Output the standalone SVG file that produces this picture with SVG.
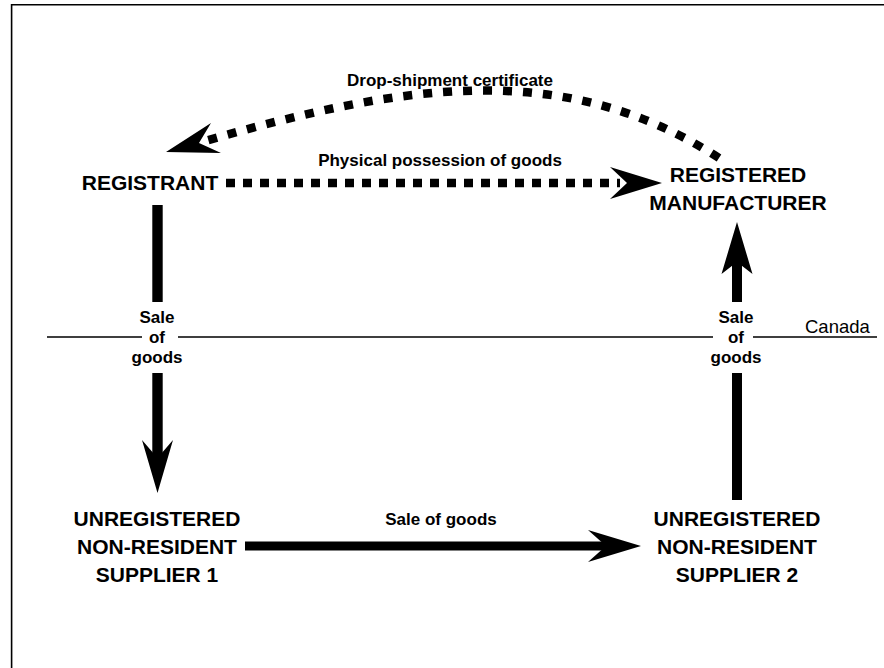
<svg xmlns="http://www.w3.org/2000/svg" width="884" height="668" viewBox="0 0 884 668">
<style>
.node{font-family:"Liberation Sans",Arial,Helvetica,sans-serif;font-weight:bold;font-size:21px;text-anchor:middle;fill:#000}
.lbl{font-family:"Liberation Sans",Arial,Helvetica,sans-serif;font-weight:bold;font-size:17px;text-anchor:middle;fill:#000}
.dot{fill:none;stroke:#000;stroke-width:8.5;stroke-linecap:butt}
.head{fill:#000;stroke:none}
.thin{fill:none;stroke:#000;stroke-width:1.3}
</style>
<rect width="884" height="668" fill="#fff"/>
<path d="M11.6,668 V4.8 H884" fill="none" stroke="#000" stroke-width="1.6"/>
<g id="canada-border">
<path class="thin" d="M47,337 H142 M178,337 H713 M753,337 H877"/>
<text x="805" y="333" font-family="Liberation Sans,Arial,sans-serif" font-size="18.5" fill="#000">Canada</text>
</g>
<g id="connectors">
<g id="e-drop">
<path class="dot" d="M719,158 C560,56 397,86 205,141" stroke-dasharray="9 11"/>
<polygon class="head" points="166,152 211,123 199,143 221,153"/>
<text class="lbl" x="450" y="86">Drop-shipment certificate</text>
</g>
<g id="e-physical">
<path class="dot" d="M226,183 H620" stroke-dasharray="9 8"/>
<polygon class="head" points="662,183 610,167 627,183 610,199"/>
<text class="lbl" x="440" y="166">Physical possession of goods</text>
</g>
<g id="e-sale1">
<rect x="152.3" y="205" width="10.4" height="97"/>
<rect x="152.3" y="373" width="10.4" height="86"/>
<polygon class="head" points="157.5,493 142,440 157.5,458 173,440"/>
<text class="lbl" x="157" y="323">Sale</text>
<text class="lbl" x="157" y="343">of</text>
<text class="lbl" x="157" y="363">goods</text>
</g>
<g id="e-sale2">
<rect x="245" y="541.5" width="362" height="9"/>
<polygon class="head" points="641,546 588,530 606,546 588,562"/>
<text class="lbl" x="441" y="525">Sale of goods</text>
</g>
<g id="e-sale3">
<rect x="732" y="373" width="10" height="127"/>
<rect x="732" y="262" width="10" height="40"/>
<polygon class="head" points="737,222 721.5,274 737,262 752.5,274"/>
<text class="lbl" x="736" y="323">Sale</text>
<text class="lbl" x="736" y="343">of</text>
<text class="lbl" x="736" y="363">goods</text>
</g>
</g>
<g id="n-registrant"><text class="node" x="150" y="190">REGISTRANT</text></g>
<g id="n-manufacturer"><text class="node" x="738" y="182">REGISTERED</text><text class="node" x="738" y="210">MANUFACTURER</text></g>
<g id="n-supplier1"><text class="node" x="157" y="526">UNREGISTERED</text><text class="node" x="157" y="554">NON-RESIDENT</text><text class="node" x="157" y="582">SUPPLIER 1</text></g>
<g id="n-supplier2"><text class="node" x="737" y="526">UNREGISTERED</text><text class="node" x="737" y="554">NON-RESIDENT</text><text class="node" x="737" y="582">SUPPLIER 2</text></g>
</svg>
